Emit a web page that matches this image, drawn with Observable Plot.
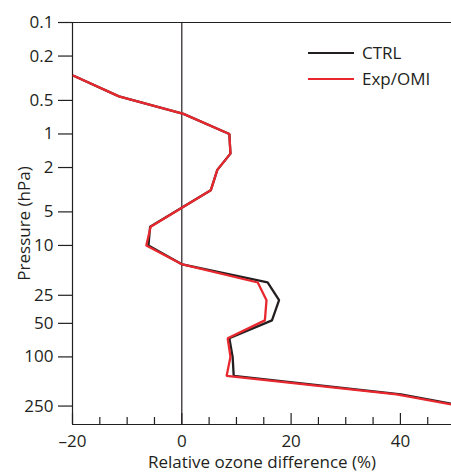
<!DOCTYPE html>
<html><head><meta charset="utf-8">
<script src="https://cdn.jsdelivr.net/npm/d3@7"></script>
<script src="https://cdn.jsdelivr.net/npm/@observablehq/plot@0.6"></script>
<style>
body{margin:0;background:#fff;}
#wrap{position:relative;width:451px;height:473px;font-family:"Open Sans",sans-serif;color:#231f20;}
.legend{position:absolute;left:308px;top:40px;font-size:17px;line-height:26px;}
.row{display:flex;align-items:center;height:26px;}
.sw{width:46px;height:2px;margin-right:8px;}
</style></head><body><div id="wrap"></div>
<script>
// Pressure levels (hPa) of the profile vertices
const pressure = [0.3, 0.46, 0.66, 1.0, 1.5, 2.1, 3.2, 6.8, 10, 14.8, 21.5, 31, 47, 68, 100, 148, 217, 267];
// Relative ozone difference (%)
const ctrl   = [-19.8, -11.5, 0.3, 8.7, 8.9, 6.5, 5.3, -5.8, -6.1, 0.1, 15.7, 17.8, 16.5, 8.7, 9.3, 9.5, 40.1, 50.0];
const expOmi = [-19.8, -11.5, 0.3, 8.7, 8.9, 6.5, 5.3, -5.7, -6.5, 0.1, 13.9, 15.5, 15.2, 8.4, 8.9, 8.2, 39.3, 49.4];
const seriesNames = ["CTRL", "Exp/OMI"];
const seriesColors = ["#231f20", "#e8282e"];
const yTicks = [0.1, 0.2, 0.5, 1, 2, 5, 10, 28, 50, 100, 276];
const yTickLabels = ["0.1", "0.2", "0.5", "1", "2", "5", "10", "25", "50", "100", "250"];
const xMajorTicks = [-20, 0, 20, 40];
const xTickLabels = ["–20", "0", "20", "40"];
const xMinorTicks = [-15, -10, -5, 5, 10, 15, 25, 30, 35, 45];
const xTitle = "Relative ozone difference (%)";
const yTitle = "Pressure (hPa)";

const ctrlRows = pressure.map((p, i) => ({series: seriesNames[0], p, x: ctrl[i]}));
const expRows = pressure.map((p, i) => ({series: seriesNames[1], p, x: expOmi[i]}));
const ink = "#231f20";
const fs = 17;

const plot = Plot.plot({
  width: 451, height: 473,
  marginTop: 22, marginBottom: 49, marginLeft: 72, marginRight: 0,
  style: {fontFamily: "'Open Sans', sans-serif", fontSize: fs + "px", color: ink, background: "#fff"},
  x: {domain: [-20, 49.35], label: null},
  y: {type: "log", domain: [0.1, 404], reverse: true, label: null},
  marks: [
    Plot.ruleY([0.1], {stroke: ink, strokeWidth: 1.2}),
    Plot.ruleY([404], {stroke: ink, strokeWidth: 1.2}),
    Plot.ruleX([-20], {stroke: ink, strokeWidth: 1.2}),
    Plot.ruleX([0], {stroke: ink, strokeWidth: 1.2}),
    Plot.axisY({ticks: yTicks, tickFormat: () => "", tickSize: 14, tickPadding: 0, label: null, stroke: ink, strokeWidth: 1.2}),
    Plot.text(yTicks, {y: d => d, frameAnchor: "left", text: d => yTickLabels[yTicks.indexOf(d)], textAnchor: "end", lineAnchor: "middle", dx: -19, fill: ink, fontSize: fs}),
    Plot.axisX({ticks: xMajorTicks, tickFormat: d => xTickLabels[xMajorTicks.indexOf(d)], tickSize: -11, tickPadding: 21.5, label: null, stroke: ink, fill: ink, strokeWidth: 1.2, fontSize: fs}),
    Plot.axisX({ticks: xMinorTicks, tickFormat: () => "", tickSize: -7, tickPadding: 0, label: null, stroke: ink, strokeWidth: 1.2}),
    Plot.line(ctrlRows, {x: "x", y: "p", stroke: seriesColors[0], strokeWidth: 2.3, strokeLinejoin: "miter", clip: true}),
    Plot.line(expRows, {x: "x", y: "p", stroke: seriesColors[1], strokeWidth: 2.3, strokeLinejoin: "miter", clip: true}),
    Plot.text([yTitle], {frameAnchor: "left", rotate: -90, textAnchor: "middle", lineAnchor: "middle", dx: -47.5, fill: ink, fontSize: fs}),
    Plot.text([xTitle], {frameAnchor: "bottom", textAnchor: "middle", lineAnchor: "middle", dy: 38.5, fill: ink, fontSize: fs})
  ]
});
const wrap = document.getElementById("wrap");
wrap.appendChild(plot);
const legend = document.createElement("div");
legend.className = "legend";
seriesNames.forEach((name, i) => {
  const row = document.createElement("div");
  row.className = "row";
  const sw = document.createElement("div");
  sw.className = "sw";
  sw.style.background = seriesColors[i];
  const t = document.createElement("span");
  t.textContent = name;
  row.appendChild(sw); row.appendChild(t);
  legend.appendChild(row);
});
wrap.appendChild(legend);
</script></body></html>
